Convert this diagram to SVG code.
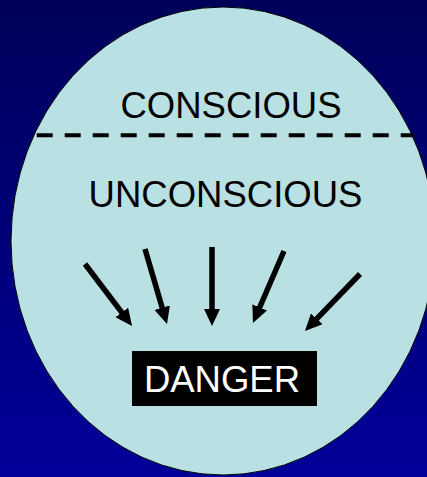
<svg xmlns="http://www.w3.org/2000/svg" width="427" height="477" viewBox="0 0 427 477">
<defs>
<linearGradient id="bg" x1="0" y1="0" x2="0" y2="1">
<stop offset="0" stop-color="#00005a"/>
<stop offset="1" stop-color="#000099"/>
</linearGradient>
<marker id="head" markerUnits="userSpaceOnUse" markerWidth="17" markerHeight="16" refX="5" refY="8" orient="auto" viewBox="0 0 17 16">
<path d="M0,0 L17,8 L0,16 z" fill="#000"/>
</marker>
</defs>
<style>
.lbl{font-family:"Liberation Sans",Arial,sans-serif;font-size:36.5px;text-anchor:middle}
.arrow{stroke:#000;stroke-width:5.5;fill:none;marker-end:url(#head)}
</style>
<rect x="0" y="0" width="427" height="477" fill="url(#bg)"/>
<g id="mind">
<ellipse cx="223" cy="241" rx="212" ry="234" fill="#b9e0e3" stroke="#000" stroke-width="1"/>
<line x1="36.7" y1="135.3" x2="414" y2="135.3" stroke="#000" stroke-width="4" stroke-dasharray="16 12"/>
</g>
<g id="conscious"><text class="lbl" x="231" y="118">CONSCIOUS</text></g>
<g id="unconscious"><text class="lbl" x="225.5" y="207">UNCONSCIOUS</text></g>
<g id="danger">
<rect x="132" y="351" width="185" height="55" fill="#000"/>
<text class="lbl" x="222" y="392" fill="#fff">DANGER</text>
</g>
<g id="connectors">
<line class="arrow" x1="85" y1="264" x2="124.75" y2="316.4"/>
<line class="arrow" x1="145" y1="249" x2="163.6" y2="312.5"/>
<line class="arrow" x1="212" y1="247" x2="212" y2="314"/>
<line class="arrow" x1="284" y1="251" x2="257.7" y2="312"/>
<line class="arrow" x1="360" y1="274" x2="313.3" y2="322.4"/>
</g>
</svg>
